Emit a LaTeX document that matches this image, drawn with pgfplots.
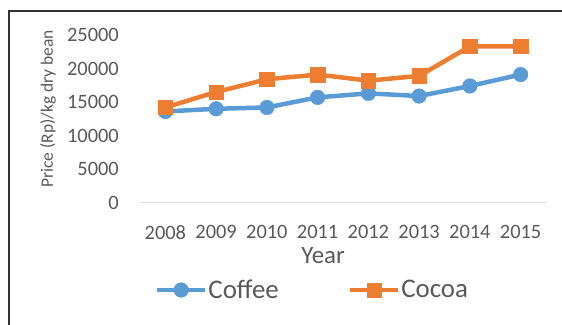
\documentclass[border=0pt]{standalone}
\usepackage{fontspec}
\setmainfont{Carlito}
\usepackage{pgfplots}
\usepackage{pgfplotstable}
\pgfplotsset{compat=1.18}
\definecolor{cblue}{HTML}{5B9BD5}
\definecolor{corange}{HTML}{ED7D31}
\definecolor{tgray}{HTML}{595959}
\definecolor{ggray}{HTML}{D9D9D9}
\pgfplotstableread{
x coffee cocoa
0 13600 14200
1 14000 16500
2 14200 18400
3 15700 19100
4 16300 18200
5 15900 18900
6 17400 23300
7 19100 23300
}\data
\begin{document}
\begin{tikzpicture}[x=1bp,y=1bp]
\path[use as bounding box] (0,0) rectangle (562,324);
\draw[line width=1.3bp, black!80] (9,-10) -- (9,313) -- (580,313);
\begin{axis}[
 at={(140bp,121.3bp)}, anchor=south west,
 scale only axis, width=406bp, height=167.7bp,
 xmin=-0.5, xmax=7.5, ymin=0, ymax=25000,
 xtick={0,1,2,3,4,5,6,7},
 xticklabels={2008,2009,2010,2011,2012,2013,2014,2015},
 ytick={0,5000,10000,15000,20000,25000},
 axis x line*=bottom, axis y line*=left,
 x axis line style={draw=ggray, line width=1.3bp, -},
 y axis line style={draw=none},
 major tick length=0pt,
 /pgf/number format/assume math mode=true,
 /pgf/number format/1000 sep={},
 scaled y ticks=false,
 clip=false,
 ticklabel style={font=\fontsize{20.5}{24}\selectfont, text=tgray, inner sep=0pt},
 yticklabel style={anchor=east, xshift=-21bp},
 xticklabel style={anchor=north, yshift=-22.8bp},
 xlabel={Year},
 xlabel style={at={(axis description cs:0.451,-0.318)}, anchor=center, font=\fontsize{25}{30}\selectfont, text=tgray, inner sep=0pt},
 ylabel={Price (Rp)/kg dry bean},
 ylabel style={at={(axis description cs:-0.2266,0.559)}, anchor=center, font=\fontsize{17.5}{21}\selectfont, text=tgray, inner sep=0pt},
 legend columns=2,
 legend style={at={(axis description cs:0.4224,-0.5206)}, anchor=center, draw=none, fill=none, inner sep=0pt, font=\fontsize{27}{32}\selectfont, text=tgray, nodes={inner sep=0pt},
   /tikz/every odd column/.append style={column sep=1bp},
   /tikz/every even column/.append style={column sep=69bp}},
 legend image code/.code={\draw[mark repeat=2, mark phase=2, #1] plot coordinates {(0bp,0bp) (24bp,0bp) (48bp,0bp)};},
]
\addplot[cblue, line width=4.5bp, mark=*, mark size=7.3bp, mark options={solid, fill=cblue, draw=cblue, line width=0.5bp}] table[x=x, y=coffee] {\data};
\addlegendentry{Coffee}
\addplot[corange, line width=4.5bp, mark=square*, mark size=7.2bp, mark options={solid, fill=corange, draw=corange, line width=0.5bp}] table[x=x, y=cocoa] {\data};
\addlegendentry{Cocoa}
\end{axis}
\end{tikzpicture}
\end{document}
